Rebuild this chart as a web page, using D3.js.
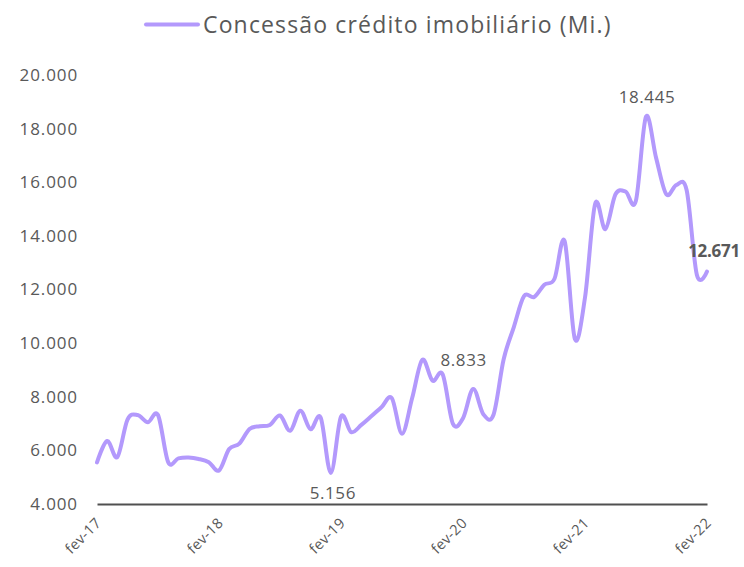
<!DOCTYPE html>
<html>
<head>
<meta charset="utf-8">
<script src="https://cdn.jsdelivr.net/npm/d3@7"></script>
<style>
  html, body { margin: 0; padding: 0; background: #fff; }
  svg { display: block; }
  text { font-family: "Open Sans", "DejaVu Sans", sans-serif; fill: #595959; }
</style>
</head>
<body>
<svg id="chart" width="744" height="567"></svg>
<script>
// ---- data ----
const months = [
  "fev-17","mar-17","abr-17","mai-17","jun-17","jul-17","ago-17","set-17","out-17","nov-17","dez-17","jan-18",
  "fev-18","mar-18","abr-18","mai-18","jun-18","jul-18","ago-18","set-18","out-18","nov-18","dez-18","jan-19",
  "fev-19","mar-19","abr-19","mai-19","jun-19","jul-19","ago-19","set-19","out-19","nov-19","dez-19","jan-20",
  "fev-20","mar-20","abr-20","mai-20","jun-20","jul-20","ago-20","set-20","out-20","nov-20","dez-20","jan-21",
  "fev-21","mar-21","abr-21","mai-21","jun-21","jul-21","ago-21","set-21","out-21","nov-21","dez-21","jan-22",
  "fev-22"
];
const credito = [
  5550, 6350, 5750, 7150, 7320, 7050, 7320, 5560, 5700, 5730, 5680, 5560,
  5250, 6050, 6250, 6800, 6900, 6950, 7300, 6730, 7480, 6790, 7220, 5156,
  7260, 6680, 6950, 7280, 7620, 7950, 6620, 7950, 9380, 8600, 8833, 7000,
  7200, 8290, 7350, 7330, 9400, 10600, 11750, 11720, 12180, 12400, 13800, 10160,
  11700, 15200, 14250, 15550, 15650, 15300, 18445, 16900, 15550, 15900, 15700, 12550,
  12671
];
const xTickLabels = ["fev-17","fev-18","fev-19","fev-20","fev-21","fev-22"];
const yTicks = [4000, 6000, 8000, 10000, 12000, 14000, 16000, 18000, 20000];
const seriesName = "Concessão crédito imobiliário (Mi.)";
const annotated = ["jan-19", "dez-19", "ago-21"]; // labelled points
const lastLabel = "fev-22";

// ---- layout ----
const svg = d3.select("#chart");
const fmt = v => d3.format(",")(v).replace(/,/g, ".");
const lineColor = "#b399fc";

const x = d3.scalePoint().domain(months).range([97, 707]);
const y = d3.scaleLinear().domain([4000, 20000]).range([504, 75]);

// y axis labels (no line)
const yAxis = d3.axisLeft(y).tickValues(yTicks).tickFormat(fmt).tickSize(0).tickPadding(0);
const gy = svg.append("g").attr("transform", "translate(78,0)").call(yAxis);
gy.select(".domain").remove();
gy.selectAll("text")
  .attr("font-size", 17).attr("fill", "#595959")
  .style("font-family", '"Open Sans", sans-serif')
  .attr("letter-spacing", 0.9);

// x axis: line + rotated labels
const xAxis = d3.axisBottom(x).tickValues(xTickLabels).tickSize(0).tickFormat(() => "");
const gx = svg.append("g").attr("transform", `translate(0,${y(4000)})`).call(xAxis);
gx.select(".domain").attr("stroke", "#505050").attr("stroke-width", 2);
svg.append("g").selectAll("text")
  .data(xTickLabels)
  .join("text")
  .attr("x", d => x(d) + 5)
  .attr("y", y(4000) + 20)
  .attr("transform", d => `rotate(-45 ${x(d) + 5} ${y(4000) + 20})`)
  .attr("text-anchor", "end")
  .attr("font-size", 14.5)
  .attr("letter-spacing", 0.3)
  .text(d => d);

// line
const line = d3.line()
  .x((d, i) => x(months[i]))
  .y(d => y(d))
  .curve(d3.curveCatmullRom.alpha(0));
svg.append("path")
  .datum(credito)
  .attr("d", line)
  .attr("fill", "none")
  .attr("stroke", lineColor)
  .attr("stroke-width", 4)
  .attr("stroke-linejoin", "round")
  .attr("stroke-linecap", "round");

// data labels
const labelOffsets = { "jan-19": [2, 26], "dez-19": [21, -8], "ago-21": [1, -14] };
annotated.forEach(m => {
  const i = months.indexOf(m);
  const [dx, dy] = labelOffsets[m];
  svg.append("text")
    .attr("x", x(m) + dx).attr("y", y(credito[i]) + dy)
    .attr("text-anchor", "middle")
    .attr("font-size", 17).attr("letter-spacing", 0.6)
    .text(fmt(credito[i]));
});
{
  const i = months.indexOf(lastLabel);
  svg.append("text")
    .attr("x", x(lastLabel) + 7).attr("y", y(credito[i]) - 15)
    .attr("text-anchor", "middle")
    .attr("font-size", 17).attr("font-weight", "bold").attr("fill", "#404040")
    .attr("letter-spacing", -0.3)
    .text(fmt(credito[i]));
}

// legend
const lg = svg.append("g");
lg.append("line").attr("x1", 146).attr("x2", 198).attr("y1", 24.5).attr("y2", 24.5)
  .attr("stroke", lineColor).attr("stroke-width", 4).attr("stroke-linecap", "round");
lg.append("text").attr("x", 203).attr("y", 32.5)
  .attr("font-size", 23).attr("letter-spacing", 1.15)
  .text(seriesName);
</script>
</body>
</html>
